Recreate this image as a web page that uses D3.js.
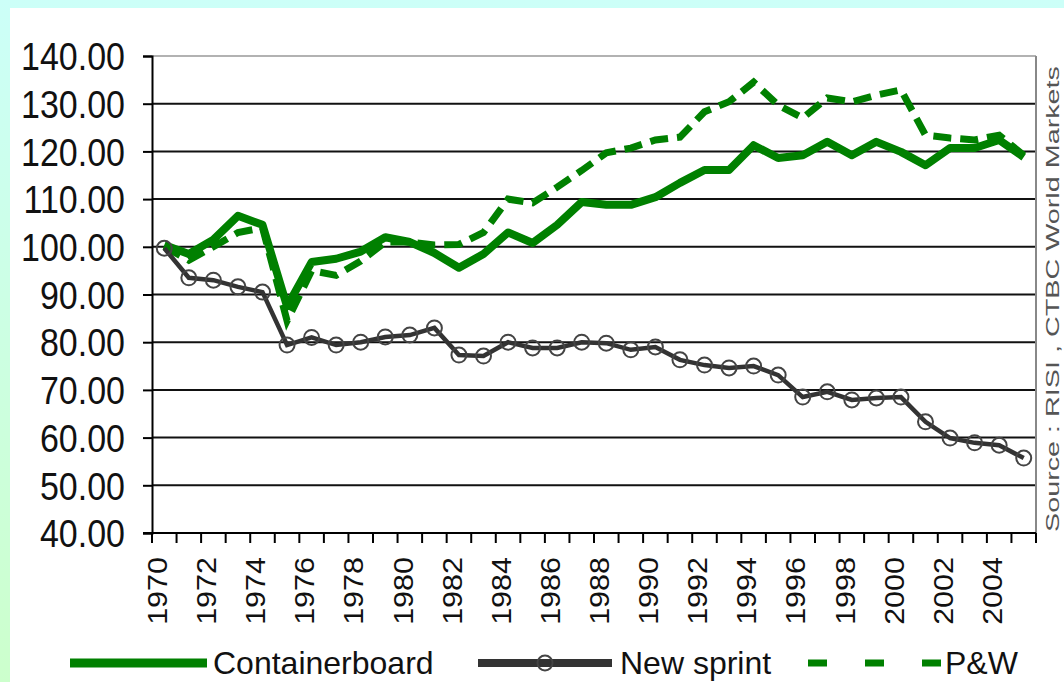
<!DOCTYPE html>
<html>
<head>
<meta charset="utf-8">
<script src="https://cdn.jsdelivr.net/npm/d3@7"></script>
<style>
  html, body { margin: 0; padding: 0; }
  svg { display: block; }
  text { font-family: "Liberation Sans", Arial, sans-serif; }
</style>
</head>
<body>
<svg id="chart" width="1064" height="682"></svg>
<script>
// categories
const years = d3.range(1970, 2006);
const yTicks = [40, 50, 60, 70, 80, 90, 100, 110, 120, 130, 140];

// series values (index, 1970 = 100)
const containerboard = [100.4, 98.5, 101.5, 106.5, 104.6, 87.5, 96.8, 97.5, 99, 102,
  101, 98.7, 95.6, 98.5, 103, 100.8, 104.6, 109.4, 108.8, 108.8,
  110.4, 113.4, 116.1, 116.1, 121.3, 118.6, 119.2, 122, 119.2, 122,
  119.9, 117.1, 120.7, 120.7, 122.4, 118.8];
const newsprint = [99.7, 93.5, 93, 91.6, 90.5, 79.4, 81, 79.4, 80, 81.1,
  81.5, 83, 77.3, 77.1, 80, 78.8, 78.8, 80, 79.8, 78.4,
  79, 76.3, 75.2, 74.6, 75, 73.1, 68.5, 69.6, 67.9, 68.3,
  68.5, 63.3, 59.9, 58.9, 58.4, 55.7];
const pw = [100, 97.2, 100, 103, 104, 84.5, 95, 94, 97, 101,
  101, 100.4, 100.5, 103, 110, 109.2, 112.5, 116, 119.7, 120.7,
  122.4, 123, 128.3, 130.4, 134.5, 129.7, 127, 131.2, 130.4, 131.8,
  132.9, 123.4, 122.8, 122.4, 123.4, 119.2];

const legendNames = ["Containerboard", "New sprint", "P&W"];
const sourceText = "Source : RISI , CTBC World Markets";

const green = "#008000";
const dark = "#333333";

let svg = d3.select("#chart");

// background strips + white panel
let defs = svg.append("defs");
let grad = defs.append("linearGradient").attr("id", "bg")
  .attr("x1", 0).attr("y1", 0).attr("x2", 0).attr("y2", 1);
grad.append("stop").attr("offset", "0%").attr("stop-color", "#ccfff8");
grad.append("stop").attr("offset", "100%").attr("stop-color", "#ccffcc");
svg.append("rect").attr("width", 1064).attr("height", 682).attr("fill", "url(#bg)");
svg.append("rect").attr("x", 10).attr("y", 8).attr("width", 1054).attr("height", 674).attr("fill", "#fff");

// scales
let x = d3.scaleBand().domain(years).range([152, 1036]).padding(0);
let y = d3.scaleLinear().domain([40, 140]).range([533, 56]);
let cx = d => x(d) + x.bandwidth() / 2;

// gridlines
svg.append("g").selectAll("line")
  .data(yTicks.filter(v => v > 40))
  .join("line")
  .attr("x1", 152).attr("x2", 1036)
  .attr("y1", d => y(d)).attr("y2", d => y(d))
  .attr("stroke", d => d === 140 ? "#999" : "#111")
  .attr("stroke-width", d => d === 140 ? 1.5 : 2);

// right border
svg.append("line").attr("x1", 1036).attr("x2", 1036).attr("y1", 56).attr("y2", 533)
  .attr("stroke", "#888").attr("stroke-width", 2);

// y axis
let yAxis = svg.append("g").attr("transform", "translate(152,0)")
  .call(d3.axisLeft(y).tickValues(yTicks).tickSize(9).tickPadding(0).tickFormat(d3.format(".2f")));
yAxis.select(".domain").attr("stroke", "#000").attr("stroke-width", 2);
yAxis.selectAll(".tick line").attr("stroke", "#000").attr("stroke-width", 2);
yAxis.selectAll(".tick text").remove();
yAxis.selectAll(".tick").append("text")
  .attr("transform", "translate(-27,0) scale(1,1.12)")
  .attr("text-anchor", "end")
  .attr("dy", "0.36em")
  .attr("fill", "#111")
  .attr("font-size", 34)
  .text(d => d3.format(".2f")(d));

// x axis line and ticks at category boundaries
svg.append("line").attr("x1", 143).attr("x2", 1036).attr("y1", 533).attr("y2", 533)
  .attr("stroke", "#000").attr("stroke-width", 2);
svg.append("g").selectAll("line")
  .data(years.map(d => x(d)).concat([1036]))
  .join("line")
  .attr("x1", d => d).attr("x2", d => d)
  .attr("y1", 533).attr("y2", 543)
  .attr("stroke", "#000").attr("stroke-width", 2);

// x labels, every other year
svg.append("g").selectAll("text")
  .data(years.filter(d => d % 2 === 0))
  .join("text")
  .attr("transform", d => "translate(" + (cx(d) - 7) + ",557) scale(1,1.13) rotate(-90)")
  .attr("text-anchor", "end")
  .attr("dy", "0.36em")
  .attr("font-size", 27)
  .attr("fill", "#111")
  .text(d => d);

// lines
let line = d3.line().x((d, i) => cx(years[i])).y(d => y(d));

svg.append("path").datum(containerboard)
  .attr("d", line).attr("fill", "none")
  .attr("stroke", green).attr("stroke-width", 8).attr("stroke-linejoin", "round");

svg.append("path").datum(pw)
  .attr("d", line).attr("fill", "none")
  .attr("stroke", green).attr("stroke-width", 7).attr("stroke-dasharray", "18,9");

svg.append("path").datum(newsprint)
  .attr("d", line).attr("fill", "none")
  .attr("stroke", dark).attr("stroke-width", 4.5);
svg.append("g").selectAll("circle")
  .data(newsprint)
  .join("circle")
  .attr("cx", (d, i) => cx(years[i]))
  .attr("cy", d => y(d))
  .attr("r", 7.5)
  .attr("fill", "none")
  .attr("stroke", "#444")
  .attr("stroke-width", 2);

// source note on the right
svg.append("text")
  .attr("transform", "translate(1059,532) rotate(-90)")
  .attr("font-size", 18)
  .attr("fill", "#555")
  .attr("textLength", 466)
  .attr("lengthAdjust", "spacingAndGlyphs")
  .text(sourceText);

// legend
let ly = 663;
let leg = svg.append("g");
leg.append("line").attr("x1", 70).attr("x2", 207).attr("y1", ly).attr("y2", ly)
  .attr("stroke", green).attr("stroke-width", 9);
leg.append("text").attr("x", 213).attr("y", ly + 11).attr("font-size", 32).attr("fill", "#111")
  .text(legendNames[0]);

leg.append("line").attr("x1", 478).attr("x2", 612).attr("y1", ly).attr("y2", ly)
  .attr("stroke", dark).attr("stroke-width", 8);
leg.append("circle").attr("cx", 545).attr("cy", ly).attr("r", 7.5)
  .attr("fill", "none").attr("stroke", "#444").attr("stroke-width", 2);
leg.append("text").attr("x", 620).attr("y", ly + 11).attr("font-size", 32).attr("fill", "#111")
  .text(legendNames[1]);

leg.append("line").attr("x1", 808).attr("x2", 942).attr("y1", ly).attr("y2", ly)
  .attr("stroke", green).attr("stroke-width", 7).attr("stroke-dasharray", "19,38");
leg.append("text").attr("x", 945).attr("y", ly + 11).attr("font-size", 32).attr("fill", "#111")
  .text(legendNames[2]);
</script>
</body>
</html>
